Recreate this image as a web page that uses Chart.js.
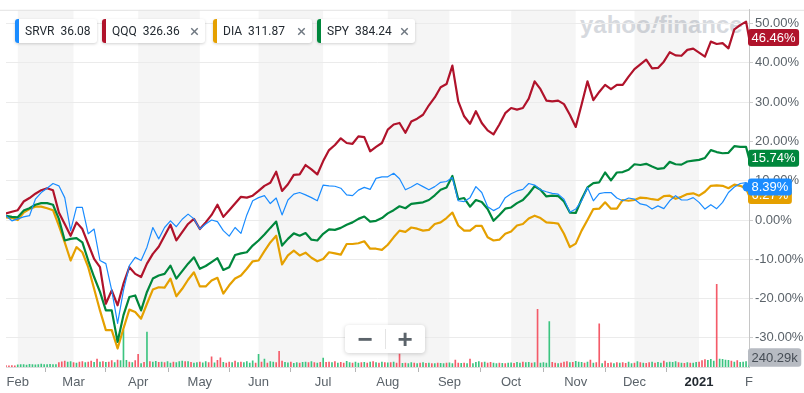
<!DOCTYPE html>
<html><head><meta charset="utf-8">
<script src="https://cdn.jsdelivr.net/npm/chart.js"></script>
<style>
html,body{margin:0;padding:0;background:#fff;}
#wrap{position:relative;width:804px;height:393px;overflow:hidden;background:#fff;}
#wm{position:absolute;left:0;top:0;width:749px;height:60px;overflow:hidden;}
#wm span{position:absolute;left:580px;top:13px;font:bold 24px/24px 'Liberation Sans',Arial,sans-serif;color:#d6d9de;white-space:nowrap;}
#wm i{display:inline-block;transform:skewX(-18deg);font-style:normal;}
canvas{position:absolute;left:0;top:0;}
.chip{position:absolute;top:19px;height:24px;background:#fff;border-radius:3px;box-shadow:0 1px 3px rgba(0,0,0,0.18);font:12px/24px Roboto,'Liberation Sans',sans-serif;color:#232a31;white-space:nowrap;box-sizing:border-box;padding-left:10px;}
.chip .bar{position:absolute;left:0;top:0;width:4px;height:24px;border-radius:3px 0 0 3px;}
.chip .x{position:absolute;right:6px;top:0;color:#6e7780;font-size:17px;}
#zc{position:absolute;left:345px;top:325px;width:80px;height:28px;background:#fff;border-radius:4px;box-shadow:0 1px 4px rgba(0,0,0,0.18);}
#zc span{position:absolute;top:0;width:40px;height:28px;text-align:center;font:bold 26px/28px 'Liberation Sans',Arial,sans-serif;color:#5b636a;}
#zc .dv{position:absolute;left:40px;top:4px;width:1px;height:20px;background:#e4e4e4;}
</style></head>
<body>
<div id="wrap">
  <div id="wm"><span>yahoo<i>!</i>finance</span></div>
  <canvas id="c" width="804" height="393"></canvas>
  <div id="chips"></div>
  <div id="zc"><span style="left:0">&minus;</span><div class="dv"></div><span style="left:40px">+</span></div>
</div>
<script>
// ---------- DATA ----------
const tickers = ['SRVR','QQQ','DIA','SPY'];
const prices  = ['36.08','326.36','311.87','384.24'];

// trading-day index (0 = 28 Jan 2020)
const days = [0,2,4,6,8,10,12,14,16,18,20,22,24,26,28,30,32,34,36,38,40,42,44,46,48,50,52,54,56,58,
60,62,64,66,68,70,72,74,76,78,80,82,84,86,88,90,92,94,96,98,100,102,104,106,108,110,112,114,116,118,
120,122,124,126,128,130,132,134,136,138,140,142,144,146,148,150,152,154,156,158,160,162,164,166,168,170,172,174,176,178,
180,182,184,186,188,190,192,194,196,198,200,202,204,206,208,210,212,214,216,218,220,222,224,226,228,230,232,234,236,238,
240,242,244,246,248,250,252,253];

// % change
const qqq = [1.7,2.1,2.5,4.7,5.6,6.7,7.6,8.1,7.6,1.9,
-1.0,-4.0,-0.6,-2.3,-6.1,-9.9,-12.0,-21.3,-17.9,-21.7,
-16.2,-12.0,-13.7,-14.5,-11.1,-8.6,-6.8,-4.0,-1.2,-5.2,
-3.1,-1.0,0.3,-2.3,-0.6,1.3,3.9,0.8,2.5,4.2,
5.9,5.7,6.2,7.4,8.7,9.5,12.3,7.4,9.1,11.5,
11.6,14.0,12.9,11.6,15.0,17.8,19.1,20.8,19.6,19.4,
21.3,21.1,17.5,18.6,19.6,23.0,24.3,24.7,22.2,25.1,
25.8,26.8,29.2,31.2,33.8,34.6,39.3,30.2,26.4,24.5,
27.7,24.7,22.8,21.8,24.3,27.2,28.5,28.1,28.5,30.9,
35.3,33.3,30.4,30.2,30.4,29.5,26.8,23.7,29.4,35.3,
30.5,32.6,34.4,33.3,34.4,34.4,36.5,38.4,39.6,40.8,
38.6,38.7,40.3,42.7,41.9,41.8,43.3,43.6,42.6,41.6,
45.4,44.8,45.0,43.7,48.5,49.6,50.5,46.46];

const spy = [1.1,0.8,0.7,2.4,3.0,3.9,4.3,4.3,3.9,0.3,
-5.2,-4.8,-4.6,-5.7,-10.3,-14.5,-18.3,-23.0,-23.0,-31.0,
-24.2,-19.6,-19.2,-23.0,-18.3,-14.9,-14.1,-13.7,-11.6,-14.9,
-13.0,-11.1,-9.5,-12.4,-11.7,-10.7,-9.7,-12.7,-12.0,-8.9,
-8.5,-8.2,-6.5,-5.2,-3.7,-2.0,-0.4,-6.5,-4.8,-3.4,
-4.0,-3.3,-5.0,-5.2,-3.5,-2.4,-2.5,-2.0,-1.2,-0.6,
0.3,0.9,-0.4,-0.2,0.5,1.7,2.5,3.5,3.0,4.1,
4.3,4.5,5.1,6.3,7.7,8.3,11.2,5.3,5.6,3.4,
5.1,4.6,2.8,-0.2,1.3,2.9,3.2,4.3,5.1,6.7,
8.6,7.7,6.0,6.2,6.1,4.7,1.9,1.8,5.3,8.3,
9.4,9.6,12.1,10.1,12.1,12.2,12.8,14.2,14.0,14.3,
13.6,13.0,13.2,14.8,14.2,14.1,14.9,15.1,15.3,15.8,
17.8,17.3,17.0,17.1,18.8,18.6,18.6,15.74];

const dia = [0.7,0.5,0.0,1.9,2.8,3.4,3.4,3.0,2.5,-1.4,
-5.7,-10.3,-6.9,-8.2,-12.0,-17.5,-23.0,-28.0,-28.0,-32.7,
-27.6,-22.8,-23.4,-25.1,-21.3,-17.7,-17.1,-17.2,-14.9,-19.4,
-17.5,-15.2,-13.3,-16.9,-16.9,-15.4,-14.7,-18.7,-16.6,-14.9,
-14.1,-12.4,-10.5,-10.3,-7.9,-5.7,-4.0,-11.3,-9.0,-7.8,
-9.0,-8.3,-9.6,-10.5,-9.9,-8.2,-8.5,-8.8,-6.1,-6.1,
-5.9,-5.4,-7.3,-7.3,-7.6,-6.3,-4.4,-2.7,-3.0,-1.9,
-2.2,-2.7,-2.5,-1.0,-0.6,0.5,1.9,-1.4,-2.7,-2.7,
-1.5,-1.5,-4.4,-5.2,-5.0,-3.5,-2.9,-1.4,-1.0,0.4,
1.1,0.5,-0.6,-0.7,-0.9,-3.5,-6.9,-6.0,-2.7,0.0,
2.8,2.9,4.5,2.9,2.9,5.1,4.9,5.1,5.7,5.6,
5.3,5.1,6.1,6.2,5.4,5.9,6.6,6.8,6.2,7.2,
8.7,8.8,8.7,8.1,9.0,8.7,8.0,6.27];

const srvr = [1.1,-0.2,0.3,0.8,1.1,5.3,7.0,8.1,9.3,8.7,
5.7,-2.7,3.2,3.2,-3.5,-2.3,-10.3,-11.1,-17.9,-26.3,
-17.9,-11.6,-9.5,-10.3,-6.9,-1.9,-4.8,-1.9,-0.2,-1.7,
0.2,1.5,0.3,-2.3,-1.0,0.0,-0.4,-2.7,-4.1,-1.9,
-3.4,1.3,4.9,5.7,6.2,4.2,5.6,1.3,5.1,6.6,
7.0,6.4,5.7,4.9,8.9,8.7,8.6,8.1,6.4,6.2,
7.6,8.3,7.8,10.6,11.0,11.0,11.9,10.5,7.7,8.4,
9.3,8.5,7.7,8.5,9.6,9.8,10.8,4.9,4.7,5.7,
8.5,7.0,3.4,2.4,3.2,5.7,6.7,7.4,7.8,9.3,
8.9,7.7,7.2,6.8,6.6,5.3,2.0,2.8,4.9,8.3,
4.9,6.7,7.0,7.0,5.6,4.9,5.6,5.3,4.1,3.8,
2.8,3.6,2.9,4.9,6.2,5.1,5.1,5.7,4.5,2.8,
3.9,2.9,4.5,7.0,8.4,9.3,9.5,8.39];

// SRVR daily volume (thousands), one per trading day
const volume = [90,70,80,70,130,150,140,120,160,140,
130,150,170,140,150,160,140,150,260,310,
360,290,330,260,240,290,320,260,300,350,
280,480,300,330,280,300,380,260,420,380,
2220,400,300,260,380,760,200,280,2100,330,
300,340,280,300,260,320,240,300,270,320,
350,320,330,280,240,270,300,250,320,260,
620,250,400,560,280,240,300,260,350,270,
300,260,330,230,370,240,760,300,480,240,
330,290,260,940,350,280,250,300,220,270,
240,280,300,260,330,260,240,280,540,280,
300,260,320,240,280,230,340,260,240,300,
230,260,280,230,290,320,260,230,300,260,
250,270,300,240,780,220,240,200,260,230,
210,240,260,220,230,210,200,240,220,200,
230,250,210,420,230,220,240,200,480,210,
280,320,260,300,240,280,230,200,240,220,
200,230,250,220,280,240,300,260,280,240,
260,3480,240,260,240,2740,280,230,210,240,
300,330,260,280,340,300,280,240,300,420,
240,260,2600,200,360,220,250,200,260,230,
260,220,300,200,230,320,260,240,220,260,
300,230,280,240,350,260,300,280,320,260,
240,220,260,240,230,280,300,380,440,400,
460,360,4980,480,460,420,400,360,300,380,
280,300,320,240.29];
// u = up day, d = down day
const volDir = "dddduuuuuu"+"uuuuuuuudd"+"duududdudd"+"udududdudu"+"uududdudud"+
"uududuuduu"+"ududuuduud"+"dudduddudu"+"duuuududud"+"uuddduuduu"+
"duudududud"+"dududduudu"+"ududududud"+"ududduduud"+"ududududuu"+
"duuddududu"+"uududduudu"+"duuduuduud"+"uduuuuddud"+"dduduuudud"+
"uddudddudu"+"dduudududd"+"uduuduuuud"+"ududuudddu"+"uuduuuudud"+"uuuu";

const monthStarts = [4,23,45,66,86,108,130,151,172,194,214,236,253];
const monthLabels = ['Feb','Mar','Apr','May','Jun','Jul','Aug','Sep','Oct','Nov','Dec','2021','F'];
const yTicks = [-30,-20,-10,0,10,20,30,40,50];

// ---------- STYLE ----------
const COL = {SRVR:'#1a8cff', QQQ:'#b0132b', DIA:'#e5a000', SPY:'#00873c'};
const UP = '#3cc480', DOWN = '#f45b69';
const FONT = "'Liberation Sans', Arial, sans-serif";

// chips
const chipLeft = [15,102,213,317], chipW = [82,103,99,98];
const chipsEl = document.getElementById('chips');
tickers.forEach((t,i)=>{
  const d = document.createElement('div');
  d.className='chip'; d.style.left=chipLeft[i]+'px'; d.style.width=chipW[i]+'px';
  d.innerHTML = '<div class="bar" style="background:'+COL[t]+'"></div><span>'+t+'</span><span style="margin-left:6px">'+prices[i]+'</span>'+(i>0?'<span class="x">&times;</span>':'');
  chipsEl.appendChild(d);
});

function rr(ctx,x,y,w,h,r){ctx.beginPath();ctx.moveTo(x+r,y);ctx.arcTo(x+w,y,x+w,y+h,r);ctx.arcTo(x+w,y+h,x,y+h,r);ctx.arcTo(x,y+h,x,y,r);ctx.arcTo(x,y,x+w,y,r);ctx.closePath();}

const bgPlugin = {
  id:'bands',
  beforeDraw(chart){
    const {ctx, chartArea:a, scales:{x}} = chart;
    ctx.save();
    ctx.fillStyle='rgba(0,0,0,0.04)';
    for(let i=0;i<monthStarts.length-1;i+=2){
      const x0=x.getPixelForValue(monthStarts[i]), x1=x.getPixelForValue(monthStarts[i+1]);
      ctx.fillRect(x0,a.top,x1-x0,a.bottom-a.top);
    }
    ctx.strokeStyle='#e3e3e3'; ctx.lineWidth=1;
    ctx.beginPath(); ctx.moveTo(0,a.top+0.5); ctx.lineTo(chart.width,a.top+0.5); ctx.stroke();
    ctx.restore();
  }
};

const badgePlugin = {
  id:'badges',
  afterDraw(chart){
    const {ctx, chartArea:a, scales:{x,y,yv}} = chart;
    ctx.save();
    ctx.font='13px '+FONT; ctx.textBaseline='middle';
    const badge=(yc,text,bg,fg,h)=>{
      const w=ctx.measureText(text).width+7, x0=a.right-1;
      ctx.fillStyle=bg; rr(ctx,x0,yc-h/2,w,h,3); ctx.fill();
      ctx.fillStyle=fg; ctx.fillText(text,x0+3.5,yc+0.5);
    };
    const last=arr=>arr[arr.length-1];
    badge(y.getPixelForValue(last(dia)), last(dia).toFixed(2)+'%', COL.DIA,'#fff',17);
    ctx.fillStyle=COL.SRVR; ctx.beginPath();
    ctx.arc(x.getPixelForValue(last(days))-2, y.getPixelForValue(last(srvr)), 4.5, 0, Math.PI*2); ctx.fill();
    badge(y.getPixelForValue(last(srvr)), last(srvr).toFixed(2)+'%', COL.SRVR,'#fff',17);
    badge(y.getPixelForValue(last(spy)), last(spy).toFixed(2)+'%', COL.SPY,'#fff',17);
    badge(y.getPixelForValue(last(qqq)), last(qqq).toFixed(2)+'%', COL.QQQ,'#fff',17);
    const vy=Math.min(yv.getPixelForValue(last(volume)), a.bottom-9.5);
    badge(vy, last(volume).toFixed(2)+'k', '#b7bbc2','#464d55',18.5);
    ctx.restore();
  }
};

const line=(label,arr,w,order)=>({type:'line',label,data:days.map((d,i)=>({x:d,y:arr[i]})),
  borderColor:COL[label],borderWidth:w,pointRadius:0,tension:0,borderJoinStyle:'round',borderCapStyle:'round',
  xAxisID:'x',yAxisID:'y',order});

new Chart(document.getElementById('c'),{
  data:{datasets:[
    {type:'bar',label:'Volume',data:volume.map((v,i)=>({x:i,y:v})),xAxisID:'x',yAxisID:'yv',
     backgroundColor:volDir.split('').map(c=>c==='u'?UP:DOWN),barThickness:1,order:9},
    line('DIA',dia,2.2,4),
    line('SPY',spy,2.2,3),
    line('QQQ',qqq,2.2,2),
    line('SRVR',srvr,1.2,1)
  ]},
  options:{
    responsive:false,animation:false,devicePixelRatio:1,events:[],
    layout:{padding:{left:6,top:8,right:0,bottom:0}},
    plugins:{legend:{display:false},tooltip:{enabled:false}},
    scales:{
      x:{type:'linear',min:0,max:253,offset:false,
        afterBuildTicks:s=>{s.ticks=monthStarts.map(v=>({value:v}));},
        afterFit:s=>{s.height=26;},
        ticks:{autoSkip:false,maxRotation:0,padding:3,
          callback:(v,i)=>monthLabels[i],
          color:c=>(c.tick&&c.tick.label==='2021')?'#232a31':'#5b636a',
          font:c=>({family:FONT,size:13,weight:(c.tick&&c.tick.label==='2021')?'bold':'normal'})},
        grid:{drawOnChartArea:false,tickLength:5,color:'#b5b5b5',
          tickColor:c=>(c.tick&&c.tick.value===253)?'rgba(0,0,0,0)':'#b5b5b5'},
        border:{display:true,color:'#dedede'}},
      y:{position:'right',min:-37.4,max:53.5,
        afterBuildTicks:s=>{s.ticks=yTicks.map(v=>({value:v}));},
        afterFit:s=>{s.width=55;},
        ticks:{padding:2,color:'#5b636a',font:{family:FONT,size:13},callback:v=>v.toFixed(2)+'%'},
        grid:{color:'#ebebeb',tickColor:'#cfcfcf',tickLength:4},
        border:{display:true,color:'#c6c6c6'}},
      yv:{display:false,min:0,max:21540}
    }
  },
  plugins:[bgPlugin,badgePlugin]
});
</script>
</body></html>
